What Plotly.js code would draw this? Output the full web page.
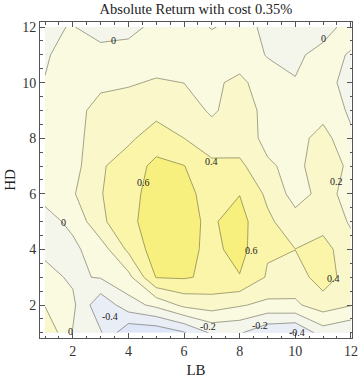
<!DOCTYPE html>
<html>
<head>
<meta charset="utf-8">
<script src="https://cdn.plot.ly/plotly-3.0.1.min.js"></script>
<style>
  html, body { margin: 0; padding: 0; background: #fff; }
  #chart { width: 360px; height: 380px; }
</style>
</head>
<body>
<div id="chart"></div>
<script>
// absolute return grid, LB on x, HD on y
var lb = [1, 2, 3, 4, 5, 6, 7, 8, 9, 10, 11, 12];
var hd = [1, 2, 3, 4, 5, 6, 7, 8, 9, 10, 11, 12];

// one row per HD value, LB 1..12
var hd1  = [0.38, -0.01, -0.18, -0.56, -0.55, -0.42, -0.17, -0.18, -0.36, -0.41, -0.10, -0.18];
var hd2  = [0.19, 0.04, -0.35, -0.08, 0.05, 0.25, 0.30, 0.22, 0.15, 0.17, 0.30, 0.21];
var hd3  = [0.06, -0.03, 0.015, 0.14, 0.61, 0.62, 0.56, 0.59, 0.38, 0.30, 0.50, 0.30];
var hd4  = [-0.04, -0.04, 0.10, 0.44, 0.70, 0.66, 0.55, 0.67, 0.42, 0.402, 0.48, 0.26];
var hd5  = [-0.06, 0.04, 0.36, 0.54, 0.72, 0.63, 0.58, 0.67, 0.44, 0.28, 0.32, 0.18];
var hd6  = [0.05, 0.18, 0.39, 0.52, 0.70, 0.66, 0.52, 0.595, 0.36, 0.12, 0.26, 0.14];
var hd7  = [0.06, 0.12, 0.38, 0.48, 0.66, 0.605, 0.44, 0.45, 0.22, 0.16, 0.28, 0.17];
var hd8  = [0.08, 0.16, 0.26, 0.37, 0.48, 0.40, 0.30, 0.28, 0.16, 0.12, 0.28, 0.03];
var hd9  = [0.06, 0.15, 0.25, 0.30, 0.35, 0.30, 0.17, 0.30, 0.14, 0.12, 0.12, -0.03];
var hd10 = [0.01, 0.12, 0.17, 0.18, 0.22, 0.198, 0.16, 0.25, 0.08, 0.004, 0.05, -0.05];
var hd11 = [-0.03, 0.12, 0.08, 0.08, 0.10, 0.12, 0.10, 0.09, -0.01, -0.014, 0.024, -0.006];
var hd12 = [-0.03, 0.01, -0.10, -0.06, 0.05, 0.08, -0.01, 0.05, -0.03, -0.08, -0.03, 0.03];
var returns = [hd1, hd2, hd3, hd4, hd5, hd6, hd7, hd8, hd9, hd10, hd11, hd12];

var levels = [-0.4, -0.2, 0, 0.2, 0.4, 0.6];

// fill colour of each band, lowest first
var bandColors = ['#dfe6f9', '#e9edf5', '#f4f6ec', '#fafae0', '#faf8cb', '#faf5a9', '#f8f07e'];

// contour labels, placed where they sit in the picture
var labelText = ['0', '0', '0.6', '0.4', '0.2', '0', '0.6', '0.4', '0', '-0.4', '-0.2', '-0.2', '-0.4'];
var labelLB   = [3.48, 11.0, 4.54, 6.99, 11.49, 1.66, 8.44, 11.37, 1.9, 3.34, 6.87, 8.73, 10.05];
var labelHD   = [11.51, 11.6, 6.4, 7.15, 6.46, 4.97, 3.95, 2.96, 1.04, 1.6, 1.22, 1.26, 1.0];

var serif = '"Liberation Serif", "DejaVu Serif", serif';

var scale = bandColors.map(function(c, i) { return [i / (bandColors.length - 1), c]; });

var trace = {
  type: 'contour',
  x: lb,
  y: hd,
  z: returns,
  autocontour: false,
  contours: {
    start: levels[0],
    end: levels[levels.length - 1],
    size: 0.2,
    coloring: 'fill',
    showlines: true
  },
  colorscale: scale,
  showscale: false,
  line: { color: 'rgba(40,40,20,0.42)', width: 1, smoothing: 0 },
  hoverinfo: 'skip'
};

var labels = labelText.map(function(t, i) {
  return {
    x: labelLB[i], y: labelHD[i], xref: 'x', yref: 'y',
    text: t, showarrow: false,
    font: { family: serif, size: 10, color: '#222' }
  };
});

var axisCommon = {
  showgrid: false,
  zeroline: false,
  showline: true,
  linecolor: '#555',
  linewidth: 1,
  mirror: 'ticks',
  ticks: 'inside',
  ticklen: 5,
  tickcolor: '#555',
  tick0: 0,
  dtick: 2,
  tickfont: { family: serif, size: 14, color: '#333' },
  minor: { ticks: 'inside', ticklen: 2.5, tickcolor: '#555', dtick: 0.5, tick0: 0, showgrid: false }
};

var layout = {
  width: 360,
  height: 380,
  margin: { l: 40, r: 8, t: 22, b: 42 },
  paper_bgcolor: '#fff',
  plot_bgcolor: '#fff',
  title: {
    text: 'Absolute Return with cost 0.35%',
    font: { family: serif, size: 14.5, color: '#222' },
    xref: 'paper', x: 0.5, xanchor: 'center',
    yref: 'container', y: 0.976, yanchor: 'middle'
  },
  xaxis: Object.assign({}, axisCommon, {
    range: [0.82, 12.04],
    title: { text: 'LB', font: { family: serif, size: 15, color: '#222' }, standoff: 6 }
  }),
  yaxis: Object.assign({}, axisCommon, {
    range: [0.813, 12.18],
    title: { text: 'HD', font: { family: serif, size: 15, color: '#222' }, standoff: 2 }
  }),
  annotations: labels,
  showlegend: false
};

Plotly.newPlot('chart', [trace], layout, { displayModeBar: false, staticPlot: true });
</script>
</body>
</html>
